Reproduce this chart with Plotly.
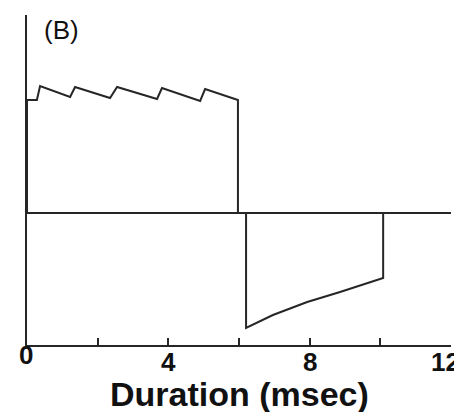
import plotly.graph_objects as go

# Positive pulse train (ms, arbitrary units)
pos_t = [0, 0, 0.28, 0.37, 1.22, 1.36, 2.35, 2.55, 3.68, 3.82, 4.90, 5.04, 5.97, 5.97]
pos_v = [0, 11.3, 11.3, 12.7, 11.6, 12.6, 11.5, 12.6, 11.4, 12.5, 11.2, 12.4, 11.3, 0]

# Negative phase
neg_t = [6.2, 6.2, 6.96, 7.93, 8.86, 10.08, 10.08]
neg_v = [0, -11.5, -10.2, -8.9, -7.9, -6.5, 0]

tick_vals = [0, 2, 4, 6, 8, 10, 12]
label_vals = [0, 4, 8, 12]
label_text = ["0", "4", "8", "12"]

LINE = "#262626"
FONT = "Liberation Sans, Arial, sans-serif"

fig = go.Figure()
fig.add_trace(go.Scatter(x=pos_t, y=pos_v, mode="lines",
                         line=dict(color=LINE, width=2), showlegend=False))
fig.add_trace(go.Scatter(x=neg_t, y=neg_v, mode="lines",
                         line=dict(color=LINE, width=2), showlegend=False))

annotations = []
for i, (v, t) in enumerate(zip(label_vals, label_text)):
    first = i == 0
    last = i == len(label_vals) - 1
    annotations.append(dict(
        text=t, x=v, xref="x", y=-0.030 if first else -0.052, yref="paper",
        xanchor="right" if last else "center", yanchor="middle",
        xshift=11 if last else (-1 if first else 0),
        showarrow=False,
        font=dict(family=FONT, size=26, color="#111", weight="bold")))

annotations += [
    dict(text="(B)", x=0.081, y=0.955, xref="paper", yref="paper",
         xanchor="center", yanchor="middle", showarrow=False,
         font=dict(family=FONT, size=26, color="#111")),
    dict(text="<b>Duration (msec)</b>", x=0.5, y=-0.147, xref="paper", yref="paper",
         xanchor="center", yanchor="middle", showarrow=False,
         font=dict(family=FONT, size=34, color="#111")),
]

fig.update_layout(
    width=454, height=404,
    margin=dict(l=19, r=11, t=7, b=67),
    paper_bgcolor="white", plot_bgcolor="white",
    xaxis=dict(range=[0, 12], showgrid=False, zeroline=False,
               showline=True, linecolor=LINE, linewidth=2,
               ticks="inside", ticklen=7, tickwidth=2, tickcolor=LINE,
               tickvals=tick_vals, showticklabels=False,
               automargin=False),
    yaxis=dict(range=[-13.2, 19.8], showgrid=False,
               zeroline=True, zerolinecolor=LINE, zerolinewidth=2,
               showline=True, linecolor=LINE, linewidth=2,
               showticklabels=False, ticks="", automargin=False),
    annotations=annotations,
)

fig.write_html("out.html")
